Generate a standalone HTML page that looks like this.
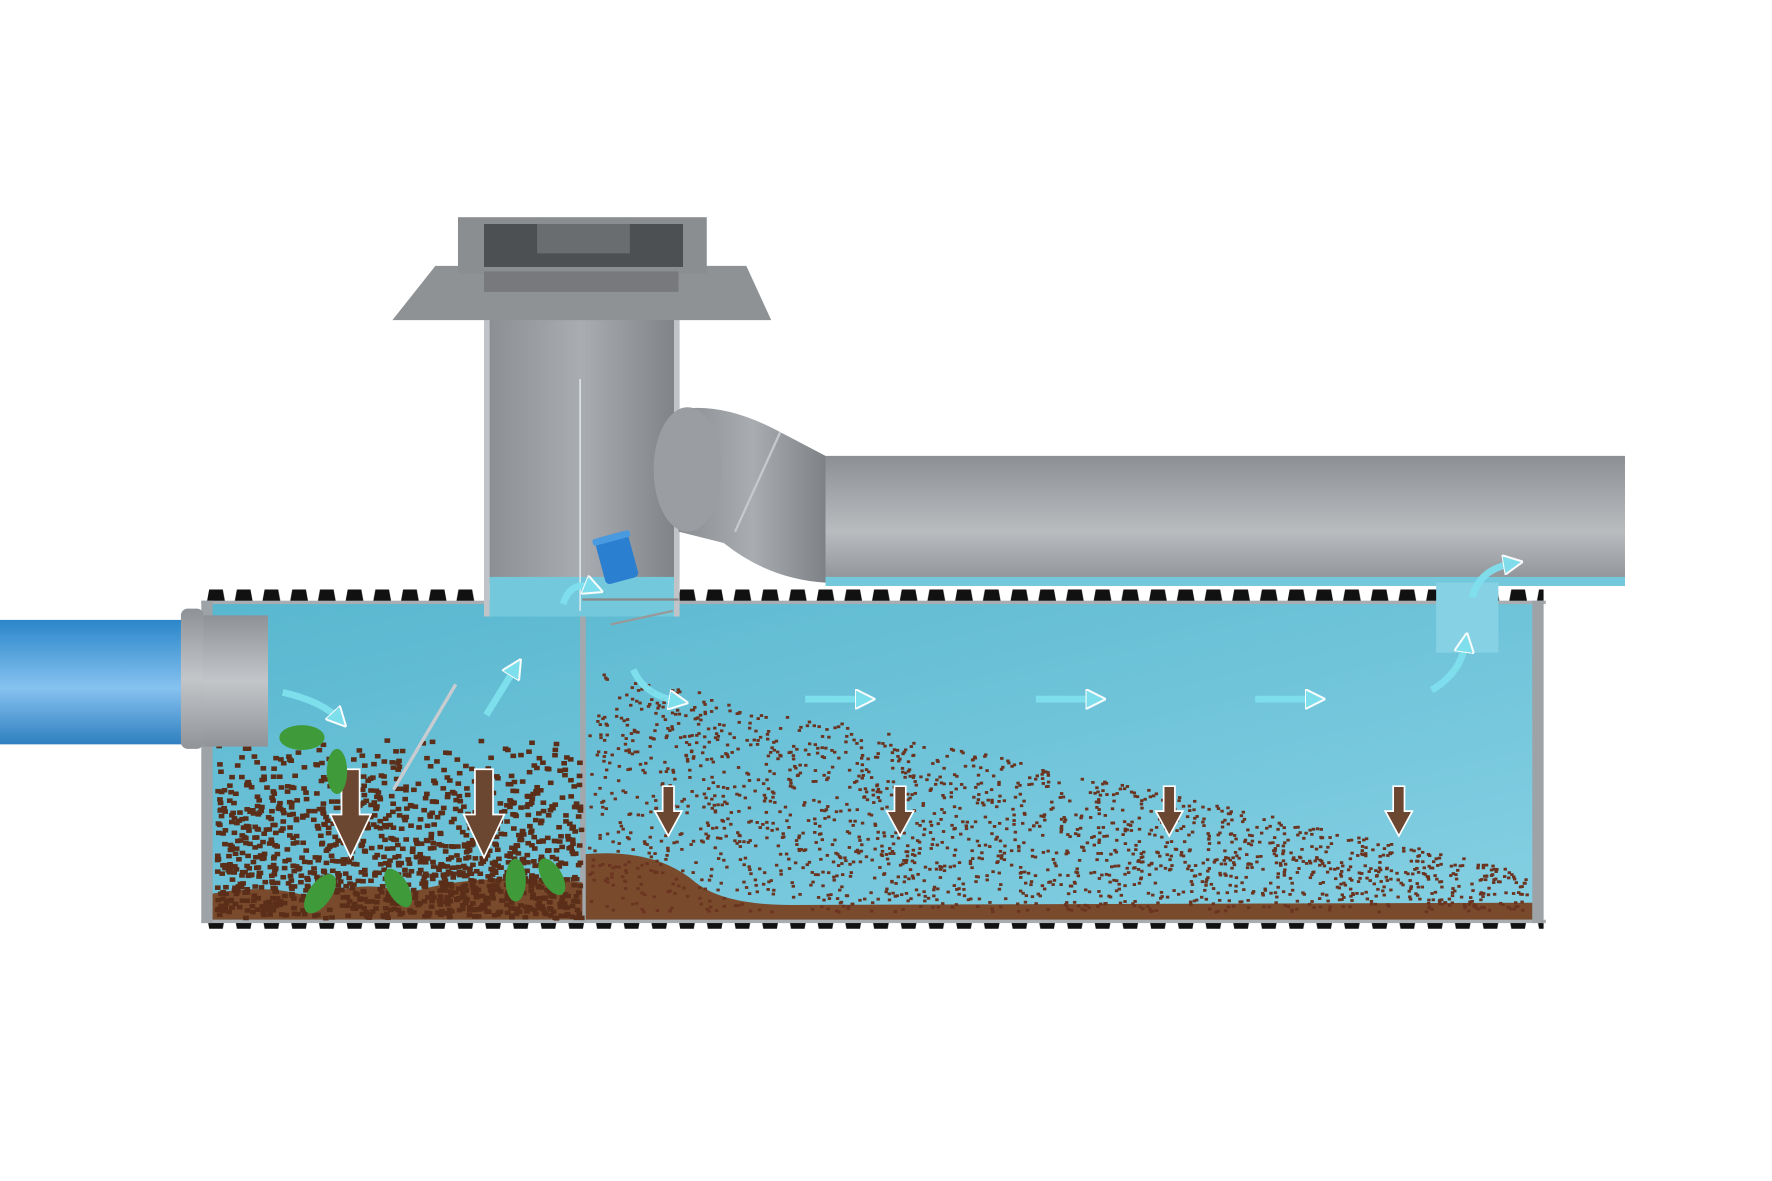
<!DOCTYPE html>
<html><head><meta charset="utf-8"><style>html,body{margin:0;padding:0;background:#fff}svg{display:block}</style></head>
<body>
<svg id="s" width="1772" height="1181" viewBox="0 0 1567 1044" preserveAspectRatio="none" xmlns="http://www.w3.org/2000/svg">
<defs>
<linearGradient id="gv" x1="0" x2="1"><stop offset="0" stop-color="#8a8e92"/><stop offset="0.5" stop-color="#a9adb1"/><stop offset="1" stop-color="#7e8286"/></linearGradient>
<linearGradient id="gh" x1="0" y1="0" x2="0" y2="1"><stop offset="0" stop-color="#8c9094"/><stop offset="0.6" stop-color="#b9bcbf"/><stop offset="1" stop-color="#8e9296"/></linearGradient>
<linearGradient id="gb" x1="0" y1="0" x2="0" y2="1"><stop offset="0" stop-color="#2a86c9"/><stop offset="0.55" stop-color="#86c2f0"/><stop offset="1" stop-color="#2f7fc0"/></linearGradient>
<linearGradient id="gw" x1="0" y1="0" x2="1" y2="1"><stop offset="0" stop-color="#58b7cf"/><stop offset="1" stop-color="#86d0e3"/></linearGradient>
<linearGradient id="gc" x1="0" y1="0" x2="0" y2="1"><stop offset="0" stop-color="#8e9297"/><stop offset="0.5" stop-color="#c3c6c9"/><stop offset="1" stop-color="#909498"/></linearGradient>
<pattern id="teeth" x="180" y="0" width="24.5" height="20" patternUnits="userSpaceOnUse"><path d="M3 12 L5 1 L17 1 L19 12 Z" fill="#111"/></pattern>
<marker id="ah" viewBox="0 0 10 10" refX="5" refY="5" markerWidth="3" markerHeight="3" orient="auto"><path d="M0 0 L10 5 L0 10 Z" fill="#7fe0ee" stroke="#fff" stroke-width="1"/></marker>
</defs>
<rect x="180" y="521" width="248" height="12" fill="url(#teeth)"/>
<rect x="600" y="521" width="765" height="12" fill="url(#teeth)"/>
<rect x="180" y="815" width="1185" height="12" fill="url(#teeth)" transform="translate(0,1642) scale(1,-1)"/>
<rect x="180" y="533" width="1185" height="282" fill="url(#gw)"/>
<rect x="178" y="531" width="1189" height="3" fill="#a8adb2"/>
<rect x="178" y="813" width="1189" height="3" fill="#a8adb2"/>
<rect x="178" y="531" width="10" height="285" fill="#9ea3a8"/>
<rect x="1355" y="531" width="10" height="285" fill="#9ea3a8"/>
<rect x="513" y="533" width="5" height="282" fill="#a3a8ad"/>
<path d="M188 790 Q240 780 280 795 Q320 775 360 790 Q420 770 515 780 L515 813 L188 813 Z" fill="#7a4a2c"/>
<path d="M518 755 Q580 750 615 780 Q640 800 700 800 L1355 798 L1355 813 L518 813 Z" fill="#7a4a2c"/>
<g id="parts"></g>
<rect x="0" y="548" width="170" height="110" fill="url(#gb)"/>
<rect x="160" y="538" width="20" height="124" rx="6" fill="url(#gc)"/>
<rect x="180" y="544" width="57" height="116" fill="url(#gc)"/>
<rect x="428" y="258" width="172" height="258" fill="url(#gv)"/>
<rect x="428" y="258" width="5" height="287" fill="#c0c4c8"/>
<rect x="596" y="258" width="5" height="287" fill="#c0c4c8"/>
<rect x="433" y="510" width="163" height="35" fill="#74c8dc"/>
<line x1="513" y1="335" x2="513" y2="540" stroke="#e8eef2" stroke-width="1.2"/>
<path d="M347 283 L385 235 L660 235 L682 283 Z" fill="#8f9295"/>
<rect x="405" y="192" width="220" height="50" fill="#8b8e91"/>
<rect x="428" y="198" width="176" height="38" fill="#4d5053"/>
<rect x="475" y="198" width="82" height="26" fill="#6a6d70"/>
<rect x="428" y="240" width="172" height="18" fill="#77797c"/>
<path d="M600 362 Q640 355 690 382 L730 403 L730 515 Q680 512 640 480 L600 470 Z" fill="url(#gv)"/>
<ellipse cx="608" cy="415" rx="30" ry="55" fill="#9a9ea2"/>
<path d="M690 382 L650 470" stroke="#c6c9cc" stroke-width="2"/>
<rect x="730" y="403" width="707" height="112" fill="url(#gh)"/>
<rect x="730" y="510" width="707" height="8" fill="#74c8dc"/>
<rect x="1270" y="515" width="55" height="62" fill="#86d2e4"/>
<g transform="rotate(-15 545 492)"><rect x="530" y="472" width="30" height="42" rx="4" fill="#2a7fd0"/><rect x="528" y="472" width="34" height="6" rx="2" fill="#4a9ae0"/></g>
<line x1="515" y1="530" x2="600" y2="530" stroke="#888" stroke-width="2"/>
<line x1="540" y1="552" x2="595" y2="540" stroke="#999" stroke-width="2"/>
<line x1="403" y1="605" x2="348" y2="698" stroke="#c8ccd0" stroke-width="3"/>
<g fill="none" stroke="#7fe0ee" stroke-width="6" marker-end="url(#ah)" opacity="0.95">
<path d="M250 612 Q285 620 300 636"/>
<path d="M430 632 L456 590"/>
<path d="M498 534 Q505 512 525 520"/>
<path d="M560 592 Q570 615 600 620"/>
<path d="M712 618 L765 618"/>
<path d="M916 618 L969 618"/>
<path d="M1110 618 L1163 618"/>
<path d="M1266 610 Q1292 595 1296 568"/>
<path d="M1302 528 Q1308 503 1338 498"/>
</g>
<g fill="#6b4630" stroke="#fff" stroke-width="1.5">
<path d="M302 680 h16 v40 h10 l-18 38 l-18 -38 h10 Z"/>
<path d="M420 680 h16 v40 h10 l-18 38 l-18 -38 h10 Z"/>
<path d="M586 695 h10 v22 h7 l-12 22 l-12 -22 h7 Z"/>
<path d="M791 695 h10 v22 h7 l-12 22 l-12 -22 h7 Z"/>
<path d="M1029 695 h10 v22 h7 l-12 22 l-12 -22 h7 Z"/>
<path d="M1232 695 h10 v22 h7 l-12 22 l-12 -22 h7 Z"/>
</g>
<g fill="#3f9a3a">
<ellipse cx="267" cy="652" rx="20" ry="11"/><ellipse cx="298" cy="682" rx="9" ry="20"/>
<ellipse cx="283" cy="790" rx="10" ry="20" transform="rotate(35 283 790)"/>
<ellipse cx="352" cy="785" rx="9" ry="19" transform="rotate(-30 352 785)"/>
<ellipse cx="456" cy="778" rx="9" ry="19"/><ellipse cx="488" cy="775" rx="9" ry="18" transform="rotate(-30 488 775)"/>
</g>
</svg>
<script>
(function(){
var g=document.getElementById('parts'),NS='http://www.w3.org/2000/svg',r=7;
function R(){r=(r*16807)%2147483647;return r/2147483647;}
function add(x,y,w,h,c){var e=document.createElementNS(NS,'rect');e.setAttribute('x',x.toFixed(1));e.setAttribute('y',y.toFixed(1));e.setAttribute('width',w);e.setAttribute('height',h);e.setAttribute('fill',c);g.appendChild(e);}
for(var i=0;i<1300;i++){var x=190+R()*322,y=650+Math.pow(R(),0.6)*160;add(x,y,5,4,'#5a2e18');}
for(var i=0;i<2600;i++){var x=520+R()*830,t=(x-520)/830,top=590+t*180,y=top+R()*(805-top);if(R()<Math.pow(t,1.4)*0.6)continue;add(x,y,3,2.5,'#6a3420');}
})();
</script>
</body></html>
